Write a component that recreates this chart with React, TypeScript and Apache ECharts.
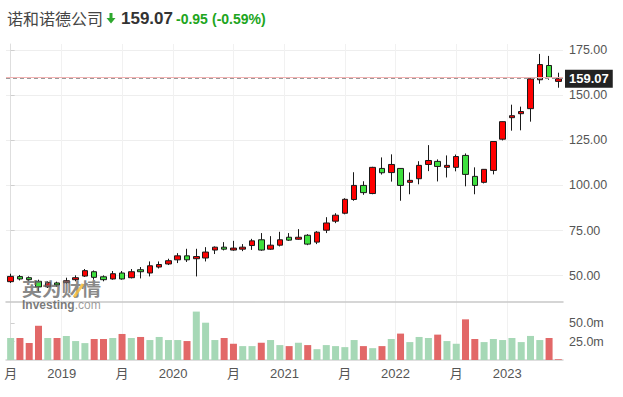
import React, { useEffect, useRef } from "react";
import * as echarts from "echarts";

// Monthly candles (oldest -> newest)
const opens = [46.7, 49.5, 48.9, 46.9, 43.8, 46.0, 46.1, 47.8, 49.8, 52.2, 49.4, 48.2, 51.5, 48.9, 53.3, 51.5, 54.8, 56.5, 58.8, 61.0, 59.4, 59.8, 64.2, 65.8, 64.2, 64.7, 66.7, 69.9, 64.7, 66.9, 71.3, 70.2, 72.4, 68.6, 75.2, 80.2, 84.6, 92.2, 100.0, 95.5, 109.4, 107.1, 109.4, 101.7, 103.7, 111.6, 113.3, 110.0, 110.0, 116.6, 105.0, 101.7, 108.3, 125.6, 137.5, 139.7, 142.5, 158.5, 166.4, 157.6];
const closes = [49.6, 48.2, 47.8, 43.8, 46.3, 44.9, 47.2, 48.9, 52.8, 49.1, 47.8, 51.1, 48.2, 52.2, 52.2, 55.5, 56.2, 58.3, 61.0, 58.8, 60.6, 63.1, 65.8, 64.7, 65.3, 65.8, 69.3, 64.2, 66.9, 69.9, 69.7, 71.3, 67.5, 74.1, 79.2, 83.5, 92.3, 100.0, 96.0, 110.0, 107.0, 111.6, 100.0, 102.8, 111.1, 113.8, 110.5, 111.1, 116.0, 106.1, 100.0, 108.9, 124.3, 135.3, 138.6, 140.9, 159.0, 166.9, 159.9, 159.07];
const lows = [46.0, 47.4, 46.9, 41.3, 43.2, 43.8, 45.6, 46.9, 49.3, 47.8, 46.9, 47.8, 47.8, 48.5, 48.5, 49.6, 54.0, 55.9, 57.0, 57.6, 49.6, 57.9, 62.0, 64.0, 63.8, 63.6, 64.3, 63.8, 64.3, 66.2, 69.3, 69.9, 66.9, 67.5, 73.6, 79.1, 84.0, 91.5, 94.8, 95.1, 106.0, 102.1, 91.5, 95.1, 100.6, 107.9, 102.2, 104.4, 107.8, 99.5, 95.1, 101.1, 106.1, 124.9, 130.3, 130.5, 135.3, 156.3, 158.5, 154.1];
const highs = [51.1, 50.4, 49.6, 47.8, 46.9, 46.7, 48.9, 50.2, 53.7, 52.9, 50.2, 52.6, 52.6, 53.7, 54.8, 57.9, 57.9, 59.4, 62.5, 64.9, 64.9, 65.8, 66.2, 68.6, 69.3, 67.5, 70.4, 73.6, 71.9, 74.3, 73.6, 75.8, 73.0, 74.7, 82.4, 84.6, 92.9, 107.3, 102.3, 110.3, 115.5, 117.2, 109.6, 107.2, 113.4, 122.3, 114.4, 116.6, 117.1, 117.7, 110.0, 109.0, 124.5, 135.4, 144.7, 143.6, 159.1, 172.8, 171.7, 162.4];

// Volume in millions, and the bar colour flag (1 = green, 0 = red)
const volumes = [30.1, 30.1, 23.1, 46.8, 30.1, 30.1, 32.9, 25.9, 23.1, 28.7, 28.7, 30.1, 35.6, 30.1, 31.5, 27.3, 31.5, 27.3, 27.3, 25.9, 66.2, 51.0, 27.3, 30.1, 22.2, 19.0, 19.0, 23.6, 27.3, 20.4, 19.0, 23.6, 20.4, 14.8, 20.4, 19.0, 17.6, 27.3, 19.0, 16.2, 19.0, 28.7, 36.1, 24.5, 31.5, 30.1, 34.7, 25.9, 22.2, 55.6, 28.7, 24.5, 28.7, 27.3, 30.1, 24.5, 32.9, 27.3, 30.1, 1.0];
const volumeGreen = [1, 0, 0, 0, 1, 0, 1, 1, 1, 0, 0, 1, 0, 1, 0, 1, 1, 1, 1, 0, 1, 1, 1, 0, 0, 1, 1, 0, 1, 1, 0, 1, 0, 1, 1, 1, 1, 1, 0, 1, 0, 1, 0, 1, 1, 1, 0, 1, 1, 0, 0, 1, 1, 1, 1, 1, 1, 1, 0, 0];

const xTickPositions = [0, 5.5, 12, 17.5, 24, 29.5, 36, 41.45, 48, 53.5];
const xTickLabels = ["月", "2019", "月", "2020", "月", "2021", "月", "2022", "月", "2023"];
const priceTicks = [50, 75, 100, 125, 150, 175];
const volumeTicks = [25, 50];
const lastPrice = 159.07;
const prevClose = 160.02;
const title = "诺和诺德公司";
const changeText = "-0.95";
const changePctText = "(-0.59%)";

const FONT = '"Liberation Sans", Arial, "Noto Sans CJK SC", sans-serif';

export default function App() {
  const ref = useRef<HTMLDivElement>(null);
  useEffect(() => {
    if (!ref.current) return;
    const chart = echarts.init(ref.current, undefined, { renderer: "svg" });
    const cats = opens.map((_, i) => String(i));
    const candleData = opens.map((o, i) => [o, closes[i], lows[i], highs[i]]);
    const volData = volumes.map((v, i) => ({
      value: v,
      itemStyle: { color: volumeGreen[i] ? "#a6d8b6" : "#e26868" },
    }));
    const xLabel = (v: number) => {
      const i = xTickPositions.findIndex((p) => Math.abs(p - v) < 0.01);
      return i >= 0 ? xTickLabels[i] : "";
    };
    chart.setOption({
      animation: false,
      backgroundColor: "#ffffff",
      textStyle: { fontFamily: FONT },
      grid: [
        { left: 6, right: 60, top: 44, height: 258 },
        { left: 6, right: 60, top: 302, height: 58 },
      ],
      xAxis: [
        {
          type: "category", gridIndex: 0, data: cats, boundaryGap: true, position: "bottom",
          axisLine: { show: true, lineStyle: { color: "#c8c8c8", width: 1.5 } },
          axisTick: { show: false }, axisLabel: { show: false }, splitLine: { show: false },
        },
        {
          type: "category", gridIndex: 1, data: cats, boundaryGap: true, position: "top",
          axisLine: { show: false }, axisTick: { show: false }, axisLabel: { show: false }, splitLine: { show: false },
        },
        {
          type: "value", gridIndex: 0, min: -0.5, max: 59.5, position: "top",
          axisLine: { show: false },
          axisTick: { show: false, customValues: xTickPositions },
          axisLabel: { show: false, customValues: xTickPositions },
          splitLine: { show: true, lineStyle: { color: "#f1f1f1", width: 1 } },
        },
        {
          type: "value", gridIndex: 1, min: -0.5, max: 59.5, position: "bottom",
          axisLine: { show: true, onZero: false, lineStyle: { color: "#d4d4d4", width: 1.5 } },
          axisTick: { show: false, customValues: xTickPositions },
          axisLabel: {
            customValues: xTickPositions, formatter: xLabel, color: "#555", fontSize: 13, margin: 7,
            fontFamily: FONT, showMinLabel: true, showMaxLabel: true, hideOverlap: false,
          },
          splitLine: { show: true, lineStyle: { color: "#f1f1f1", width: 1 } },
        },
      ],
      yAxis: [
        {
          type: "value", gridIndex: 0, position: "right", min: 35.44, max: 178.3, scale: true,
          axisLine: { show: true, lineStyle: { color: "#dedede" } },
          axisTick: { show: true, length: 4, customValues: priceTicks, lineStyle: { color: "#cfcfcf" } },
          axisLabel: {
            customValues: priceTicks, formatter: (v: number) => v.toFixed(2),
            color: "#555", fontSize: 12.5, margin: 6, fontFamily: FONT,
          },
          splitLine: { show: true, lineStyle: { color: "#eeeeee" } },
        },
        {
          type: "value", gridIndex: 1, position: "right", min: 0, max: 79.3,
          axisLine: { show: true, lineStyle: { color: "#dedede" } },
          axisTick: { show: true, length: 4, customValues: volumeTicks, lineStyle: { color: "#cfcfcf" } },
          axisLabel: {
            customValues: volumeTicks, formatter: (v: number) => v.toFixed(1) + "m",
            color: "#555", fontSize: 12.5, margin: 6, fontFamily: FONT,
          },
          splitLine: { show: false },
        },
      ],
      series: [
        {
          type: "candlestick", xAxisIndex: 0, yAxisIndex: 0, data: candleData, barWidth: 6,
          itemStyle: {
            color: "#ff0000", color0: "#3ee03e",
            borderColor: "#1a1a1a", borderColor0: "#1a1a1a", borderWidth: 1,
          },
          markLine: {
            silent: true, symbol: "none", animation: false,
            data: [
              { yAxis: prevClose, lineStyle: { color: "#f3b3b3", type: "solid", width: 1 }, label: { show: false } },
              {
                yAxis: lastPrice,
                lineStyle: { color: "#9a9a9a", type: [4, 3], width: 1 },
                label: {
                  show: true, position: "end", formatter: lastPrice.toFixed(2), distance: 2,
                  backgroundColor: "#222", color: "#fff", padding: [3, 4, 2, 4],
                  fontSize: 13, fontWeight: 600, fontFamily: FONT,
                },
              },
            ],
          },
        },
        {
          type: "bar", xAxisIndex: 1, yAxisIndex: 1, data: volData, barWidth: 7,
        },
      ],
      graphic: [
        {
          type: "text", x: 7, y: 18,
          style: { text: title, font: '16px "Noto Sans CJK SC", sans-serif', fill: "#454545", verticalAlign: "middle", textVerticalAlign: "middle" },
        },
        {
          type: "polygon",
          shape: { points: [[109.5, 13], [112.5, 13], [112.5, 18], [115.5, 18], [111, 23.5], [106.5, 18], [109.5, 18]] },
          style: { fill: "#2ea82e" },
        },
        {
          type: "text", x: 121, y: 18.5,
          style: { text: lastPrice.toFixed(2), font: 'bold 17px ' + FONT, fill: "#333", verticalAlign: "middle", textVerticalAlign: "middle" },
        },
        {
          type: "text", x: 176, y: 18.5,
          style: { text: changeText, font: 'bold 14px ' + FONT, fill: "#20a520", verticalAlign: "middle", textVerticalAlign: "middle" },
        },
        {
          type: "text", x: 212, y: 18.5,
          style: { text: changePctText, font: 'bold 14px ' + FONT, fill: "#20a520", verticalAlign: "middle", textVerticalAlign: "middle" },
        },
        // watermark
        {
          type: "text", x: 22, y: 288, z: 100, scaleX: 1.1,
          style: { text: "英为财情", font: 'bold 18px "Noto Sans CJK SC", sans-serif', fill: "rgba(105,105,105,0.8)", verticalAlign: "middle", textVerticalAlign: "middle" },
        },
        {
          type: "line", z: 101,
          shape: { x1: 74, y1: 297, x2: 83, y2: 284 },
          style: { stroke: "rgba(246,190,60,0.85)", lineWidth: 3 },
        },
        {
          type: "text", x: 22, y: 305, z: 100,
          style: {
            text: "{a|Investing}{b|.com}", verticalAlign: "middle", textVerticalAlign: "middle",
            rich: {
              a: { fontSize: 12, fontWeight: "bold", fontFamily: FONT, fill: "rgba(100,100,100,0.85)", color: "rgba(100,100,100,0.85)" },
              b: { fontSize: 12, fontFamily: FONT, fill: "rgba(140,140,140,0.85)", color: "rgba(140,140,140,0.85)" },
            },
          },
        },
      ],
    });
    return () => chart.dispose();
  }, []);
  return <div ref={ref} style={{ position: "fixed", left: 0, top: 0, width: 623, height: 397 }} />;
}
